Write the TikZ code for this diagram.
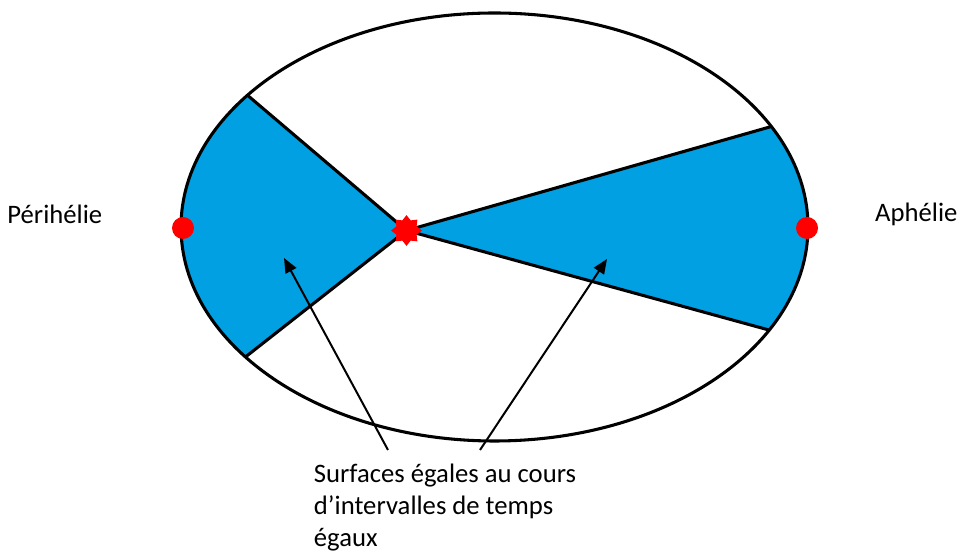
\documentclass[tikz,border=0pt]{standalone}
\usepackage{fontspec}
\setmainfont{Carlito}
\usetikzlibrary{arrows.meta,positioning,calc,shapes.geometric}
\definecolor{Ink}{HTML}{000000}
\definecolor{Sweep}{HTML}{00A0E2}
\definecolor{Dot}{HTML}{FF0000}
\tikzset{
  orbit/.style={draw=Ink,line width=2.3pt},
  ray/.style={draw=Ink,line width=2.3pt,line join=miter},
  sweep/.style={fill=Sweep},
  apsis/.style={circle,fill=Dot,inner sep=0pt,minimum size=16.5pt},
  sunstar/.style={star,star points=8,star point ratio=1.4,fill=Dot,inner sep=0pt,minimum size=23pt},
  lbl/.style={inner sep=0pt,font=\fontsize{20}{24}\selectfont,text=Ink},
  pointer/.style={-{Triangle[length=11pt,width=9pt]},line width=1.5pt,draw=Ink}
}
\begin{document}
\begin{tikzpicture}[x=0.75pt,y=0.75pt]
\useasboundingbox (0,0) rectangle (957,552);
\coordinate (c) at (494.5,325);
\coordinate (f) at (406.5,321.5);
% points where the sectors meet the orbit
\coordinate (l1) at ($(c)+(142:313.5 and 214)$);
\coordinate (l2) at ($(c)+(217.4:313.5 and 214)$);
\coordinate (r1) at ($(c)+(28:313.5 and 214)$);
\coordinate (r2) at ($(c)+(-28.8:313.5 and 214)$);
\fill[sweep] (f) -- (l1) arc[start angle=142,end angle=217.4,x radius=313.5,y radius=214] -- cycle;
\fill[sweep] (f) -- (r2) arc[start angle=-28.8,end angle=28,x radius=313.5,y radius=214] -- cycle;
\draw[ray] (l1) -- (f) -- (l2);
\draw[ray] (r1) -- (f) -- (r2);
\draw[orbit] (c) ellipse[x radius=313.5,y radius=214];
% labels
\node[apsis] (pdot) at (183,324) {};
\node[apsis] (adot) at (807,324) {};
\node[sunstar] (sun) at (f) {};
\node[lbl,left=52pt of pdot,yshift=10.5pt] (peri) {Périhélie};
\node[lbl,right=42.5pt of adot,yshift=10.5pt] (aph) {Aphélie};
\node[lbl,align=left,anchor=north] (txt) at (445,88) {Surfaces égales au cours\\d’intervalles de temps\\égaux};
\coordinate (t1) at (284,294);
\coordinate (t2) at (607,293);
\draw[pointer] ($(txt.north)+(-57,14)$) -- (t1);
\draw[pointer] ($(txt.north)+(35,14)$) -- (t2);
\end{tikzpicture}
\end{document}
